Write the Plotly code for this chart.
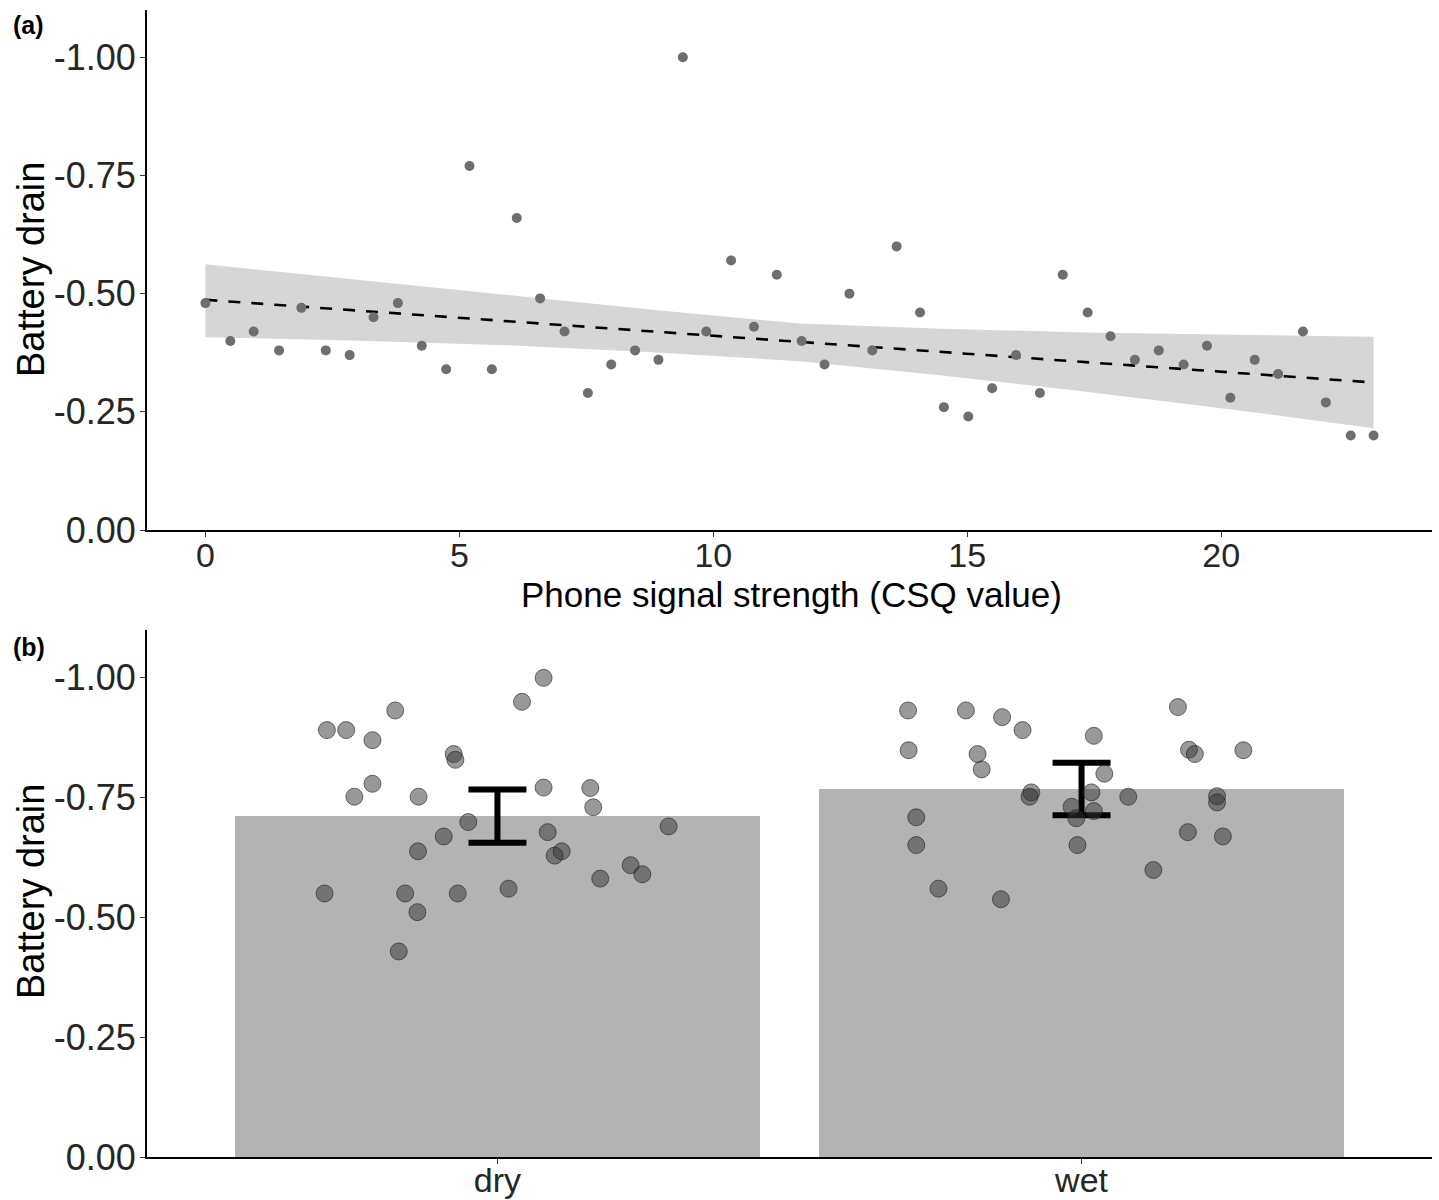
import plotly.graph_objects as go
import numpy as np

# ---------------- Panel (a): battery drain vs phone signal strength ----------------
signal_csq = [0.00, 0.49, 0.95, 1.45, 1.89, 2.37, 2.84, 3.31, 3.79, 4.26,
              4.74, 5.20, 5.64, 6.13, 6.59, 7.07, 7.53, 7.99, 8.46, 8.92,
              9.40, 9.86, 10.35, 10.80, 11.25, 11.74, 12.19, 12.68, 13.13, 13.61,
              14.07, 14.54, 15.02, 15.49, 15.96, 16.43, 16.88, 17.37, 17.82, 18.30,
              18.77, 19.26, 19.72, 20.18, 20.66, 21.12, 21.61, 22.06, 22.55, 23.00]
drain_signal = [-0.48, -0.40, -0.42, -0.38, -0.47, -0.38, -0.37, -0.45, -0.48, -0.39,
                -0.34, -0.77, -0.34, -0.66, -0.49, -0.42, -0.29, -0.35, -0.38, -0.36,
                -1.00, -0.42, -0.57, -0.43, -0.54, -0.40, -0.35, -0.50, -0.38, -0.60,
                -0.46, -0.26, -0.24, -0.30, -0.37, -0.29, -0.54, -0.46, -0.41, -0.36,
                -0.38, -0.35, -0.39, -0.28, -0.36, -0.33, -0.42, -0.27, -0.20, -0.20]

# fitted trend line
fit_x = [0.0, 23.0]
fit_y = [-0.487, -0.312]

# confidence band
band_x = [0.0, 2.9, 5.9, 8.8, 11.7, 14.5, 17.3, 20.2, 23.0]
band_upper = [-0.562, -0.530, -0.498, -0.466, -0.437, -0.426, -0.418, -0.413, -0.409]
band_lower = [-0.408, -0.401, -0.391, -0.376, -0.357, -0.327, -0.293, -0.255, -0.2155]

# ---------------- Panel (b): battery drain, dry vs wet ----------------
categories = ["dry", "wet"]
dry_jitter = [-0.292, -0.259, -0.214, -0.175, -0.075, -0.072, 0.042, 0.079, -0.214, -0.245,
              -0.135, 0.079, 0.159, 0.164, -0.050, 0.293, -0.092, 0.086, -0.136, 0.098,
              0.110, 0.228, 0.248, 0.176, -0.296, -0.158, -0.068, 0.019, -0.137, -0.169]
dry_drain = [-0.891, -0.891, -0.870, -0.932, -0.841, -0.829, -0.950, -1.000, -0.779, -0.752,
             -0.752, -0.771, -0.770, -0.730, -0.699, -0.690, -0.669, -0.678, -0.638, -0.629,
             -0.638, -0.609, -0.590, -0.581, -0.550, -0.550, -0.550, -0.560, -0.511, -0.429]
wet_jitter = [-0.297, -0.198, -0.136, -0.101, 0.165, 0.021, -0.296, -0.178, -0.171, 0.184,
              0.194, 0.277, 0.039, -0.086, -0.089, 0.017, 0.080, 0.232, 0.232, -0.017,
              0.021, -0.009, -0.283, -0.283, -0.007, 0.182, 0.242, 0.123, -0.245, -0.138]
wet_drain = [-0.932, -0.932, -0.918, -0.891, -0.939, -0.879, -0.849, -0.841, -0.809, -0.850,
             -0.841, -0.849, -0.800, -0.761, -0.752, -0.761, -0.752, -0.753, -0.740, -0.731,
             -0.722, -0.707, -0.709, -0.651, -0.651, -0.678, -0.669, -0.599, -0.560, -0.538]

# error bar ends
err_top = [-0.767, -0.823]
err_bottom = [-0.656, -0.713]

y_tickvals = [-1.0, -0.75, -0.5, -0.25, 0.0]
y_ticktext = ["-1.00", "-0.75", "-0.50", "-0.25", "0.00"]
x_tickvals = [0, 5, 10, 15, 20]

means = [float(np.mean(dry_drain)), float(np.mean(wet_drain))]
err_mid = [(a + b) / 2 for a, b in zip(err_top, err_bottom)]
err_half = [abs(a - b) / 2 for a, b in zip(err_top, err_bottom)]
cat_pos = [1, 2]

FONT = "Liberation Sans, Arial, sans-serif"
TICK_COLOR = "#262626"

fig = go.Figure()

# band
fig.add_trace(go.Scatter(
    x=band_x + band_x[::-1], y=band_upper + band_lower[::-1],
    fill="toself", fillcolor="#D6D6D6", line=dict(width=0), mode="lines",
    hoverinfo="skip", showlegend=False, xaxis="x", yaxis="y"))
# fitted line
fig.add_trace(go.Scatter(
    x=fit_x, y=fit_y, mode="lines",
    line=dict(color="black", width=2.6, dash="12px,11px"),
    showlegend=False, xaxis="x", yaxis="y"))
# points
fig.add_trace(go.Scatter(
    x=signal_csq, y=drain_signal, mode="markers",
    marker=dict(color="#6E6E6E", size=10, line=dict(width=0)),
    showlegend=False, xaxis="x", yaxis="y"))

# bars
fig.add_trace(go.Bar(
    x=cat_pos, y=means, width=0.9, marker=dict(color="#B3B3B3", line=dict(width=0)),
    showlegend=False, xaxis="x2", yaxis="y2"))
# error bars
fig.add_trace(go.Scatter(
    x=cat_pos, y=err_mid, mode="markers", marker=dict(size=0.1, color="rgba(0,0,0,0)"),
    error_y=dict(type="data", array=err_half, visible=True, color="black", thickness=6, width=29),
    showlegend=False, xaxis="x2", yaxis="y2"))
# jittered points
pts_x = [cat_pos[0] + j for j in dry_jitter] + [cat_pos[1] + j for j in wet_jitter]
pts_y = dry_drain + wet_drain
fig.add_trace(go.Scatter(
    x=pts_x, y=pts_y, mode="markers",
    marker=dict(color="rgba(51,51,51,0.5)", size=17,
                line=dict(color="rgba(30,30,30,0.6)", width=1)),
    showlegend=False, xaxis="x2", yaxis="y2"))

axis_common = dict(
    showline=True, linecolor="black", linewidth=2, showgrid=False, zeroline=False,
    ticks="outside", ticklen=5, tickwidth=1, tickcolor="#333333",
    automargin=False,
)
x_font = dict(family=FONT, size=34, color=TICK_COLOR)
y_font = dict(family=FONT, size=36, color=TICK_COLOR)

fig.update_layout(
    width=1439, height=1200,
    margin=dict(l=147, r=7, t=10, b=43),
    paper_bgcolor="white", plot_bgcolor="white",
    font=dict(family=FONT),
    bargap=0,
    xaxis=dict(domain=[0, 1], anchor="y", range=[-1.15, 24.15],
               tickvals=x_tickvals, ticktext=[str(v) for v in x_tickvals],
               tickfont=x_font, ticklabelstandoff=-11, **axis_common),
    yaxis=dict(domain=[0.5466, 1], anchor="x", range=[0, -1.1],
               tickvals=y_tickvals, ticktext=y_ticktext,
               tickfont=y_font, ticklabelstandoff=-3, **axis_common),
    xaxis2=dict(domain=[0, 1], anchor="y2", range=[0.4, 2.6],
                tickvals=cat_pos, ticktext=categories,
                tickfont=x_font, ticklabelstandoff=-13, **axis_common),
    yaxis2=dict(domain=[0, 0.4595], anchor="x2", range=[0, -1.1],
                tickvals=y_tickvals, ticktext=y_ticktext,
                tickfont=y_font, ticklabelstandoff=-3, **axis_common),
)

def px_x(px):
    return (px - 147) / 1285

def px_y(py):
    return (1157 - py) / 1147

annotations = [
    dict(text="<b>(a)</b>", x=px_x(11), y=px_y(25), xanchor="left", yanchor="middle",
         font=dict(family=FONT, size=25, color="black")),
    dict(text="<b>(b)</b>", x=px_x(11), y=px_y(647), xanchor="left", yanchor="middle",
         font=dict(family=FONT, size=25, color="black")),
    dict(text="Phone signal strength (CSQ value)", x=px_x(791), y=px_y(595),
         xanchor="center", yanchor="middle", font=dict(family=FONT, size=35, color="black")),
    dict(text="Battery drain", x=px_x(31), y=px_y(270), textangle=-90,
         xanchor="center", yanchor="middle", font=dict(family=FONT, size=38, color="black")),
    dict(text="Battery drain", x=px_x(31), y=px_y(892), textangle=-90,
         xanchor="center", yanchor="middle", font=dict(family=FONT, size=38, color="black")),
]
for a in annotations:
    a.update(xref="paper", yref="paper", showarrow=False)
fig.update_layout(annotations=annotations)

fig.write_html("out.html")
